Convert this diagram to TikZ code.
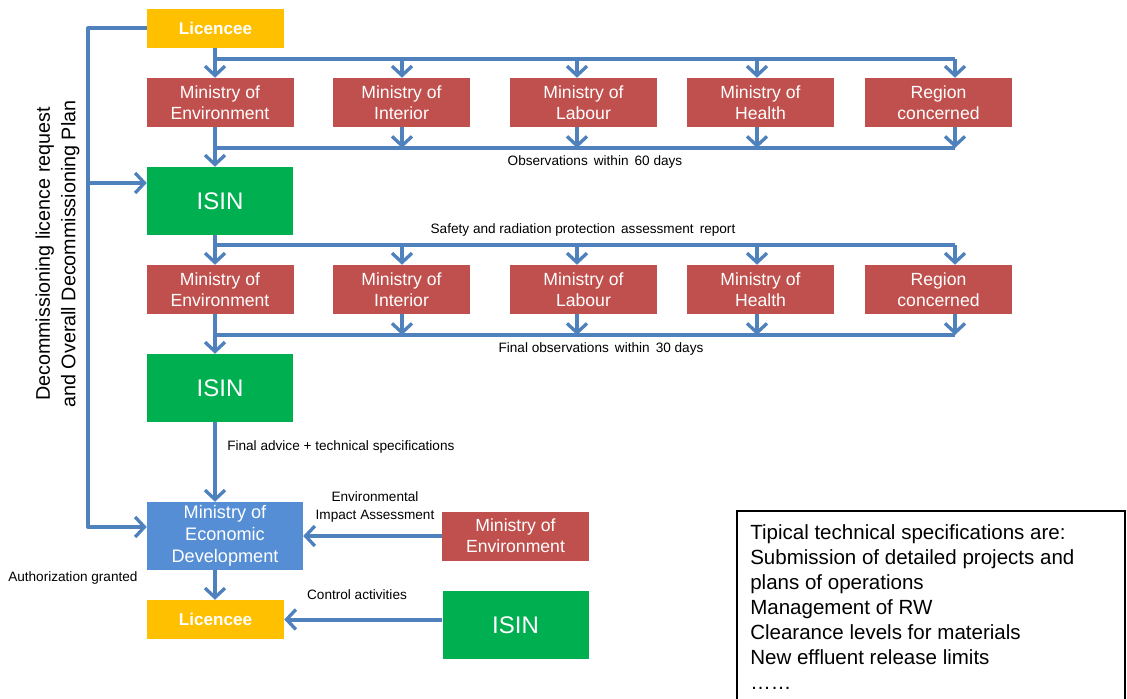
\documentclass[tikz,border=0pt]{standalone}
\usepackage{fontspec}
\setmainfont{Liberation Sans}
\usetikzlibrary{arrows.meta}
\definecolor{lic}{HTML}{FFC000}
\definecolor{redb}{HTML}{C0504D}
\definecolor{grn}{HTML}{00B050}
\definecolor{blu}{HTML}{558ED5}
\definecolor{ln}{HTML}{4F81BD}
\begin{document}
\begin{tikzpicture}[x=0.75pt,y=-0.75pt,
 base/.style={inner sep=0pt, text=white, align=center},
 licbox/.style={base, fill=lic, minimum width=102.75pt, minimum height=29.25pt, font=\fontsize{12.8}{14}\selectfont\bfseries},
 minbox/.style={base, fill=redb, minimum width=110.25pt, minimum height=36.75pt, font=\fontsize{13.2}{15.75}\selectfont},
 isinbox/.style={base, fill=grn, minimum width=109.5pt, minimum height=51pt, font=\fontsize{18}{20}\selectfont},
 medbox/.style={base, fill=blu, minimum width=117pt, minimum height=51pt, font=\fontsize{13.6}{16.5}\selectfont},
 flow/.style={draw=ln, line width=3pt},
 arr/.style={flow, -{Straight Barb[length=7pt,width=15pt,line width=2.5pt]}},
 lbl/.style={font=\fontsize{10.2}{13.5}\selectfont, inner sep=0pt, align=center},
]
\useasboundingbox (0,0) rectangle (1127,699);

% top licencee
\node[licbox] (lic1) at (215.5,28.5) {Licencee};

% row 1
\node[minbox] (a1) at (220,102.5) {Ministry of\\Environment};
\node[minbox, minimum width=102.75pt] (a2) at (401.5,102.5) {Ministry of\\Interior};
\node[minbox] (a3) at (583.5,102.5) {Ministry of\\Labour};
\node[minbox] (a4) at (760.5,102.5) {Ministry of\\Health};
\node[minbox] (a5) at (938.5,102.5) {Region\\concerned};

\coordinate (t1) at (215,59);
\coordinate (t2) at (402,59);
\coordinate (t3) at (577,59);
\coordinate (t4) at (757,59);
\coordinate (t5) at (955,59);
\draw[flow] (t1) -- (t5);
\draw[arr] (lic1.south -| t1) -- (a1.north -| t1);
\foreach \i in {2,3,4,5} { \draw[arr] (t\i) -- (a\i.north -| t\i); }

\node[isinbox] (i1) at (220,201) {ISIN};

\coordinate (b1) at (215,148);
\coordinate (b2) at (402,148);
\coordinate (b3) at (577,148);
\coordinate (b4) at (757,148);
\coordinate (b5) at (955,148);
\draw[flow] (b1) -- (b5);
\draw[arr] (a1.south -| b1) -- (i1.north -| b1);
\foreach \i in {2,3,4,5} { \draw[arr] (a\i.south -| b\i) -- (b\i); }
\node[lbl] (obs1) at (595,162) {Observations\, within\, 60 days};

% row 2
\node[lbl] (safety) at (583,230) {Safety and radiation protection\, assessment\, report};
\node[minbox] (r1) at (220,289.5) {Ministry of\\Environment};
\node[minbox, minimum width=102.75pt] (r2) at (401.5,289.5) {Ministry of\\Interior};
\node[minbox] (r3) at (583.5,289.5) {Ministry of\\Labour};
\node[minbox] (r4) at (760.5,289.5) {Ministry of\\Health};
\node[minbox] (r5) at (938.5,289.5) {Region\\concerned};

\coordinate (c1) at (215,245);
\coordinate (c2) at (402,245);
\coordinate (c3) at (577,245);
\coordinate (c4) at (757,245);
\coordinate (c5) at (955,245);
\draw[flow] (c1) -- (c5);
\draw[arr] (i1.south -| c1) -- (r1.north -| c1);
\foreach \i in {2,3,4,5} { \draw[arr] (c\i) -- (r\i.north -| c\i); }

\node[isinbox] (i2) at (220,388) {ISIN};

\coordinate (d1) at (215,335);
\coordinate (d2) at (402,335);
\coordinate (d3) at (577,335);
\coordinate (d4) at (757,335);
\coordinate (d5) at (955,335);
\draw[flow] (d1) -- (d5);
\draw[arr] (r1.south -| d1) -- (i2.north -| d1);
\foreach \i in {2,3,4,5} { \draw[arr] (r\i.south -| d\i) -- (d\i); }
\node[lbl] (obs2) at (601,349) {Final observations\, within\, 30 days};

% bottom part
\node[medbox] (med) at (225,536) {Ministry of\\Economic\\Development};
\draw[arr] (i2.south -| d1) -- (med.north -| d1);
\node[lbl, anchor=west] (fa) at (227,447) {Final advice + technical specifications};

\node[minbox] (moe) at (515.5,536) {Ministry of\\Environment};
\draw[arr] (moe.west) -- (med.east);
\node[lbl] (eia) at (375,507) {Environmental\\Impact Assessment};

\node[licbox] (lic2) at (215.5,619.5) {Licencee};
\draw[arr] (med.south -| d1) -- (lic2.north -| d1);
\node[lbl, anchor=west] (auth) at (8,578) {Authorization granted};

\node[isinbox] (i3) at (515.5,625) {ISIN};
\draw[arr] (i3.west |- lic2.east) -- (lic2.east);
\node[lbl] (ctrl) at (357,595) {Control activities};

% left feed line
\coordinate (L0) at (88,28.5);
\coordinate (L1) at (88,183);
\coordinate (L2) at (88,527);
\draw[arr, line join=round] (lic1.west) -- (L0) -- (L2) -- (med.west |- L2);
\draw[arr] (L1) -- (i1.west |- L1);
\node[rotate=90, font=\fontsize{14.8}{19}\selectfont, align=center, inner sep=0pt] (side) at (57.5,254) {Decommissioning licence request\\and Overall Decommissioning Plan};

% specification box
\draw[line width=1.2pt] (1125,699) -- (1125,511) -- (737,511) -- (737,699);
\node[anchor=north west, align=left, font=\fontsize{15.4}{18.75}\selectfont, inner sep=0pt] (spec) at (750,524) {Tipical technical specifications are:\\Submission of detailed projects and\\plans of operations\\Management of RW\\Clearance levels for materials\\New effluent release limits\\……};
\end{tikzpicture}
\end{document}
